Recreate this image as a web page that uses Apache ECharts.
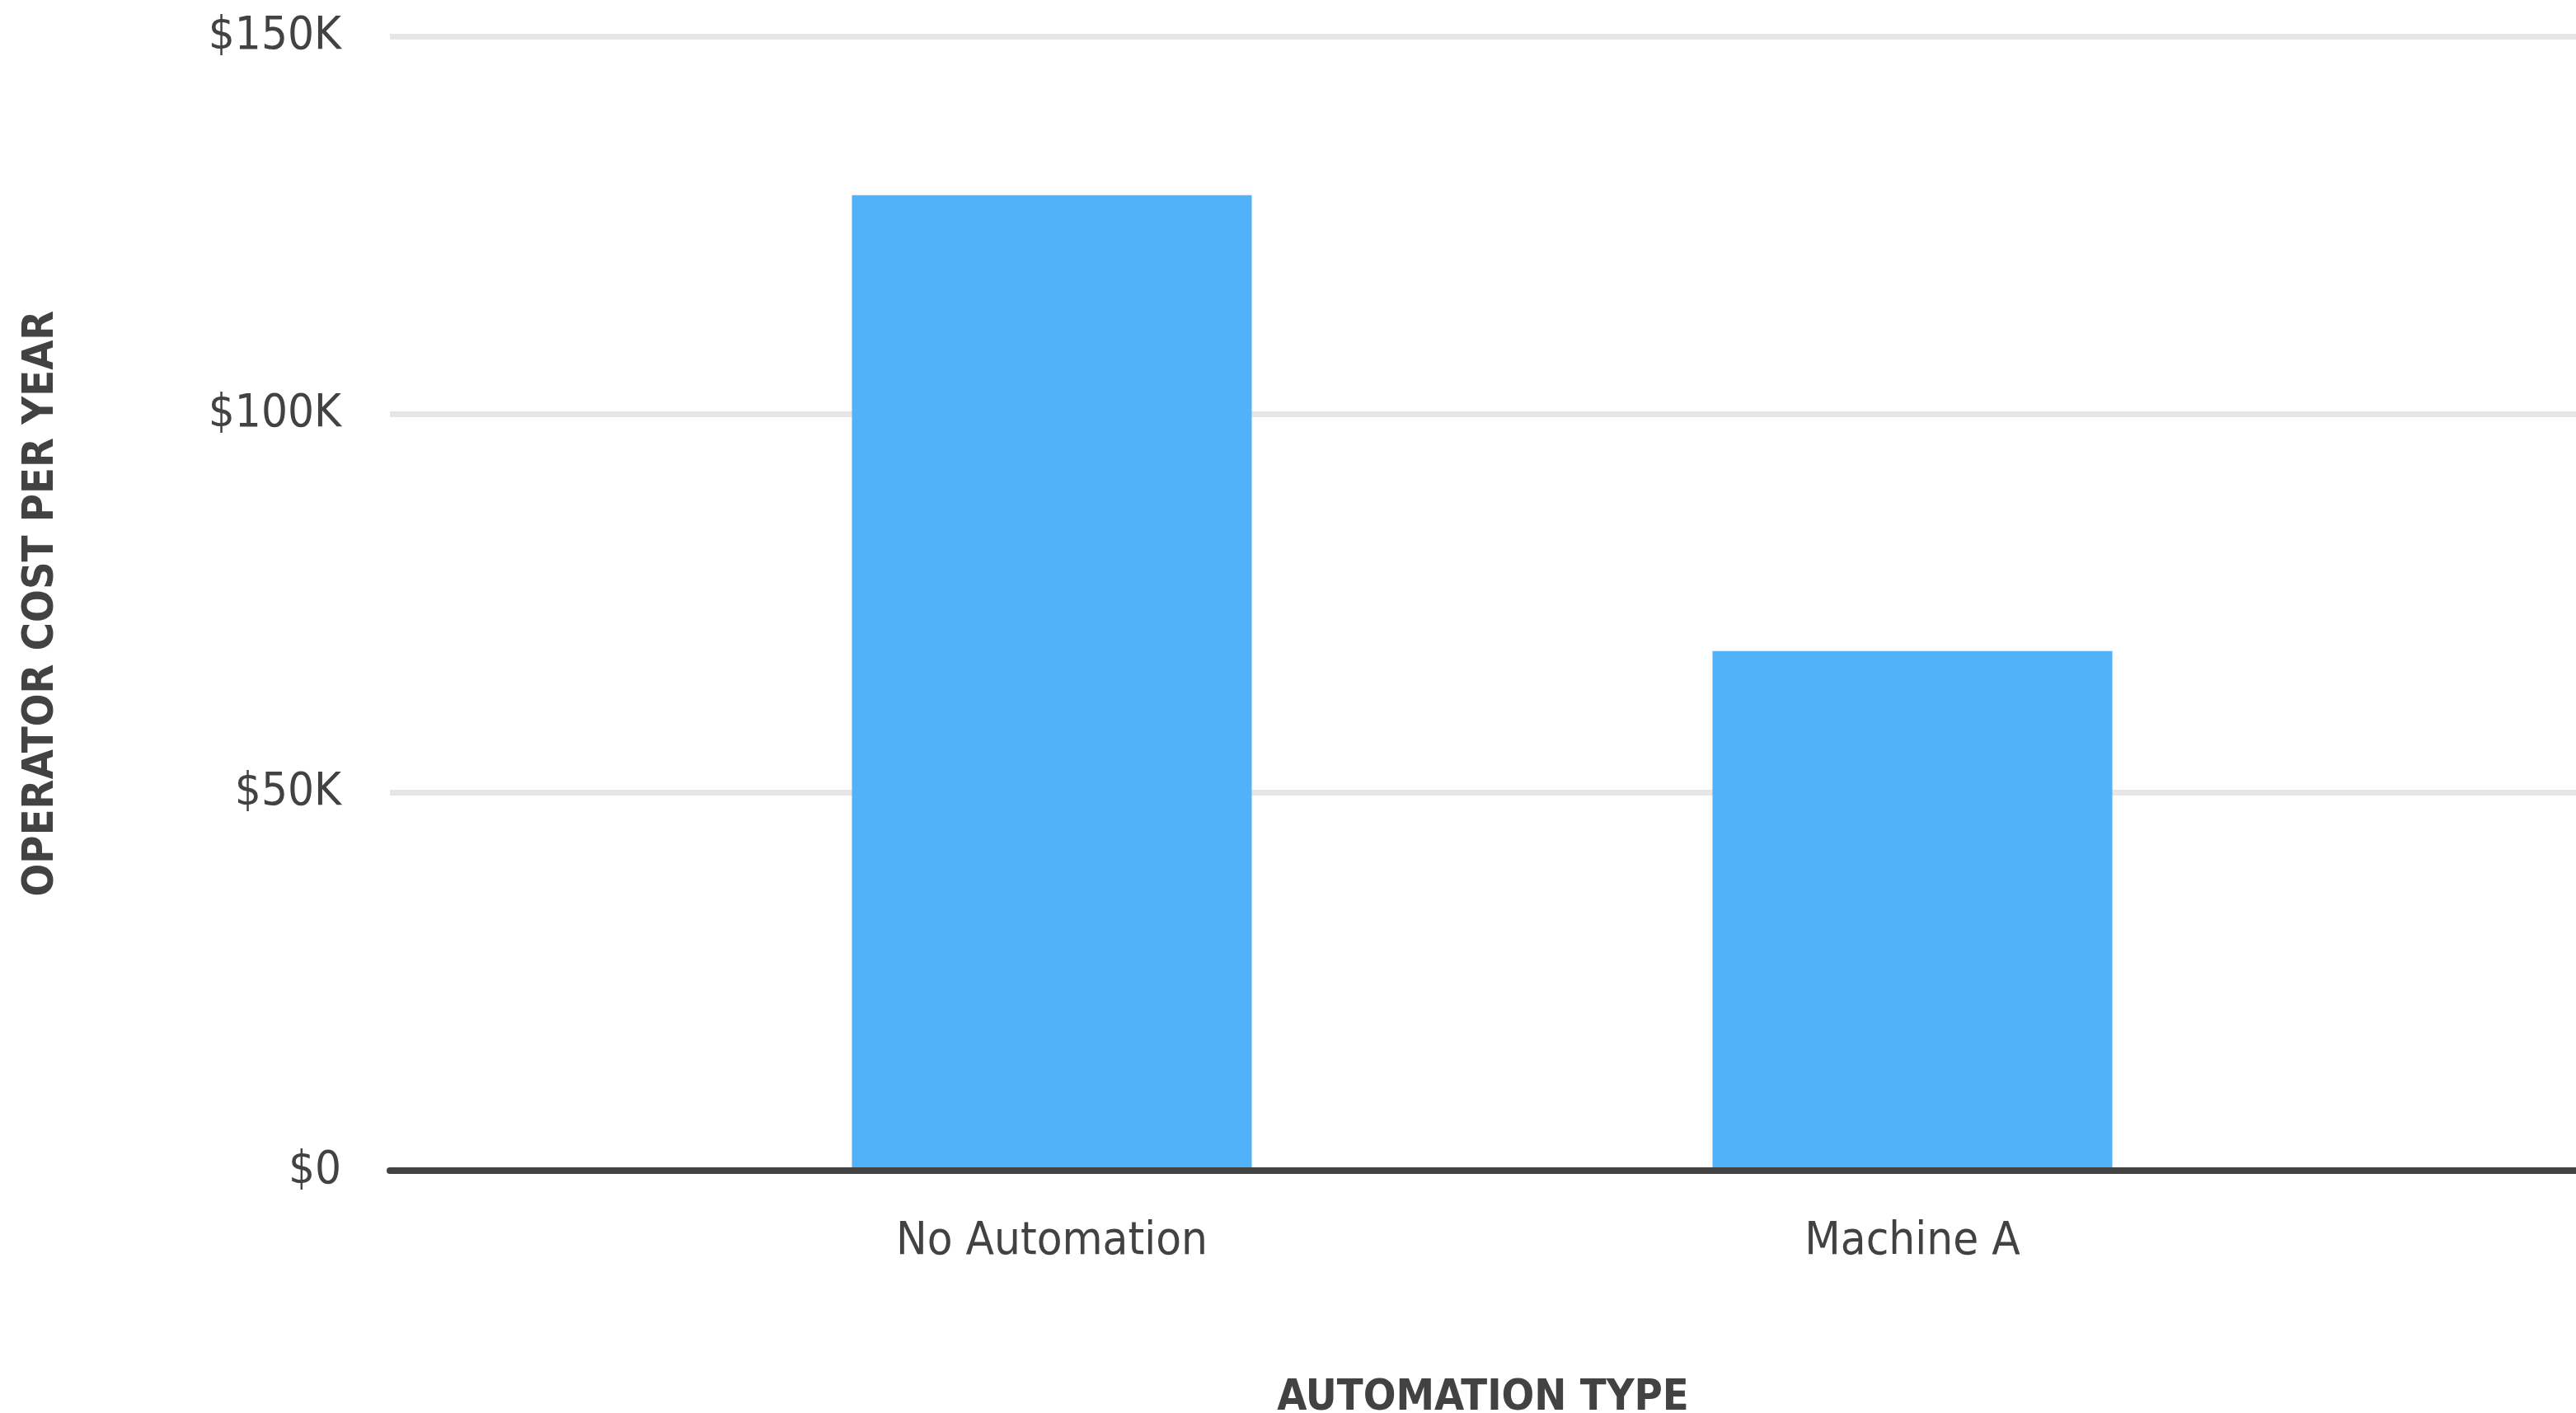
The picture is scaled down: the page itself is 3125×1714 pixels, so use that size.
<!DOCTYPE html>
<html>
<head>
<meta charset="utf-8">
<script src="https://cdn.jsdelivr.net/npm/echarts@6/dist/echarts.min.js"></script>
<style>
html,body{margin:0;padding:0;background:#fff;}
#chart{width:3125px;height:1714px;}
</style>
</head>
<body>
<div id="chart"></div>
<script>
const categories = ["No Automation", "Machine A"];
const costValues = [129000, 68700];
const yTicks = [0, 50000, 100000, 150000];
const yAxisTitle = "OPERATOR COST PER YEAR";
const xAxisTitle = "AUTOMATION TYPE";

const textColor = '#424242';
const labelFont = '"DejaVu Sans Condensed", "Liberation Sans Narrow", sans-serif';

const chart = echarts.init(document.getElementById('chart'));
chart.setOption({
  animation: false,
  backgroundColor: '#ffffff',
  grid: [
    {left: 473, right: 0, top: 44, bottom: 294, containLabel: false, outerBoundsMode: 'none'},
    {left: 754, width: 2088, top: 44, bottom: 294, containLabel: false, outerBoundsMode: 'none'}
  ],
  xAxis: [
    {
      gridIndex: 0, type: 'category', data: categories, z: 5,
      axisLine: {show: true, lineStyle: {color: '#424242', width: 8}},
      axisTick: {show: false}, axisLabel: {show: false},
      name: xAxisTitle, nameLocation: 'middle', nameGap: 250,
      nameTextStyle: {color: textColor, fontFamily: labelFont, fontWeight: 'bold', fontSize: 52}
    },
    {
      gridIndex: 1, type: 'category', data: categories,
      axisLine: {show: false}, axisTick: {show: false},
      axisLabel: {color: textColor, fontFamily: labelFont, fontSize: 56, margin: 58}
    }
  ],
  yAxis: [
    {
      gridIndex: 0, type: 'value', min: yTicks[0], max: yTicks[yTicks.length - 1], interval: 50000,
      axisLine: {show: false}, axisTick: {show: false},
      axisLabel: {color: textColor, fontFamily: labelFont, fontSize: 56, margin: 59,
        formatter: v => '$' + (v === 0 ? '0' : (v / 1000) + 'K')},
      splitLine: {lineStyle: {color: '#e6e6e6', width: 7}},
      name: yAxisTitle, nameLocation: 'middle', nameGap: 397, nameRotate: 90,
      nameTextStyle: {color: textColor, fontFamily: labelFont, fontWeight: 'bold', fontSize: 52}
    },
    {
      gridIndex: 1, type: 'value', min: yTicks[0], max: yTicks[yTicks.length - 1], interval: 50000,
      show: false, splitLine: {show: false}
    }
  ],
  series: [{
    type: 'bar', xAxisIndex: 1, yAxisIndex: 1,
    data: costValues, barWidth: 485,
    itemStyle: {color: '#51B1F9'}
  }]
});
</script>
</body>
</html>
